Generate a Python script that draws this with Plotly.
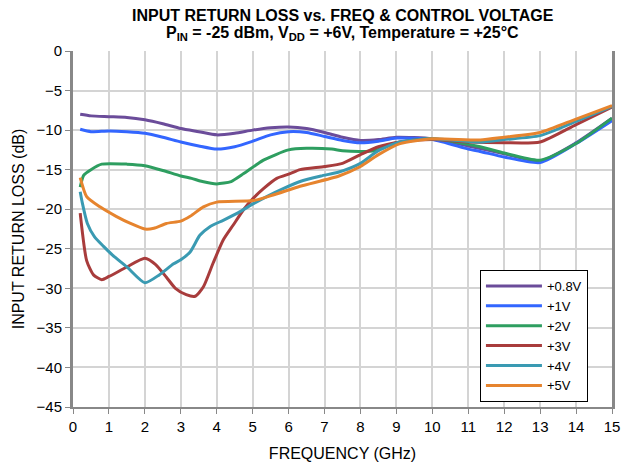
import plotly.graph_objects as go

# +0.8V
f_08 = [0.2, 0.5, 1.0, 1.5, 2.0, 2.5, 3.0, 3.5, 4.0, 4.5, 5.0, 5.5, 6.0, 6.5, 7.0, 7.5, 8.0, 8.5, 9.0, 10, 11, 12, 13, 14, 15]
rl_08 = [-8.0, -8.2, -8.3, -8.4, -8.7, -9.2, -9.8, -10.2, -10.6, -10.4, -10.0, -9.7, -9.6, -9.8, -10.3, -10.9, -11.3, -11.2, -10.9, -11.1, -12.0, -13.0, -13.9, -11.6, -8.5]

# +1V
f_1 = [0.2, 0.5, 1.0, 1.5, 2.0, 2.5, 3.0, 3.5, 4.0, 4.5, 5.0, 5.5, 6.0, 6.5, 7.0, 7.5, 8.0, 8.5, 9.0, 10, 11, 11.33, 12, 13, 14, 15]
rl_1 = [-9.9, -10.2, -10.1, -10.2, -10.4, -10.9, -11.5, -12.0, -12.4, -12.1, -11.4, -10.6, -10.2, -10.3, -10.8, -11.3, -11.6, -11.4, -11.0, -11.2, -12.4, -12.7, -13.4, -14.1, -11.7, -8.8]

# +2V
f_2 = [0.2, 0.3, 0.5, 0.8, 1.5, 2.0, 2.5, 3.0, 3.3, 3.6, 4.0, 4.4, 4.75, 5.3, 6.0, 6.5, 7.2, 7.5, 8.0, 8.4, 9.0, 10, 11.33, 12, 13, 14, 15]
rl_2 = [-17.2, -15.7, -15.0, -14.3, -14.3, -14.5, -15.1, -15.8, -16.1, -16.5, -16.8, -16.5, -15.5, -13.8, -12.5, -12.3, -12.4, -12.6, -12.7, -12.6, -11.6, -11.1, -12.1, -12.9, -13.8, -11.7, -8.5]

# +3V
f_3 = [0.2, 0.38, 0.57, 0.8, 1.0, 1.5, 2.0, 2.3, 2.6, 2.85, 3.15, 3.4, 3.63, 3.9, 4.18, 4.46, 4.74, 5.02, 5.3, 5.67, 6.04, 6.32, 7.0, 7.5, 8.0, 8.5, 9.1, 10, 11, 12, 13, 14, 15]
rl_3 = [-20.5, -26.5, -28.3, -28.9, -28.5, -27.3, -26.2, -27.0, -28.6, -30.0, -30.8, -31.0, -29.8, -26.8, -23.9, -22.0, -20.1, -18.6, -17.4, -16.1, -15.5, -15.0, -14.6, -14.2, -13.1, -12.1, -11.5, -11.2, -11.5, -11.6, -11.5, -9.3, -7.1]

# +4V
f_4 = [0.2, 0.25, 0.4, 0.6, 0.85, 1.1, 1.5, 2.0, 2.4, 2.8, 3.0, 3.26, 3.53, 3.81, 4.18, 4.65, 5.02, 5.39, 5.85, 6.32, 6.9, 7.4, 8.0, 8.5, 9.1, 10, 11.33, 12, 13, 14, 15]
rl_4 = [-17.8, -19.0, -21.8, -23.5, -24.7, -25.8, -27.3, -29.3, -28.3, -26.9, -26.4, -25.4, -23.3, -22.2, -21.4, -20.3, -19.3, -18.4, -17.4, -16.5, -15.8, -15.3, -14.2, -12.6, -11.5, -11.1, -11.5, -11.2, -10.7, -8.9, -7.0]

# +5V
f_5 = [0.2, 0.38, 0.75, 1.2, 1.6, 2.0, 2.25, 2.6, 3.0, 3.26, 3.63, 4.0, 5.02, 5.57, 6.32, 7.4, 8.0, 8.5, 9.1, 10, 11.33, 12, 13, 14, 15]
rl_5 = [-16.0, -18.4, -19.7, -20.9, -21.8, -22.5, -22.4, -21.8, -21.5, -20.9, -19.7, -19.1, -18.9, -18.2, -17.1, -15.8, -14.6, -13.1, -11.7, -11.1, -11.25, -10.9, -10.3, -8.6, -6.9]

names = ["+0.8V", "+1V", "+2V", "+3V", "+4V", "+5V"]
freqs = [f_08, f_1, f_2, f_3, f_4, f_5]
vals = [rl_08, rl_1, rl_2, rl_3, rl_4, rl_5]
colors = ["#6B4C9A", "#3366FF", "#2E9E60", "#A83C3C", "#3A9AB2", "#E6842E"]

FONT = "Liberation Sans, Arial, sans-serif"

fig = go.Figure()
for n, f, v, c in zip(names, freqs, vals, colors):
    fig.add_trace(go.Scatter(
        x=f, y=v, name=n, mode="lines",
        line=dict(color=c, width=3, shape="spline", smoothing=0.6),
    ))

# two-line bold title placed above the plot
fig.add_annotation(
    text="<b>INPUT RETURN LOSS vs. FREQ & CONTROL VOLTAGE</b>",
    xref="paper", yref="paper", x=0.5, y=1.101, xanchor="center", yanchor="middle",
    showarrow=False, font=dict(family=FONT, size=16, color="black"),
)
fig.add_annotation(
    text="<b>P<sub>IN</sub> = -25 dBm, V<sub>DD</sub> = +6V, Temperature = +25°C</b>",
    xref="paper", yref="paper", x=0.5, y=1.048, xanchor="center", yanchor="middle",
    showarrow=False, font=dict(family=FONT, size=16, color="black"),
)

fig.update_layout(
    width=621, height=466,
    margin=dict(l=73, r=9, t=51, b=59),
    paper_bgcolor="white", plot_bgcolor="white",
    font=dict(family=FONT, color="black", size=15),
    showlegend=True,
    legend=dict(
        x=0.755, y=0.385, xanchor="left", yanchor="top",
        bgcolor="white", bordercolor="black", borderwidth=1,
        font=dict(family=FONT, size=13),
        itemwidth=56, tracegroupgap=0,
    ),
)

fig.update_xaxes(
    range=[0, 15], dtick=1, tick0=0, automargin=False,
    showgrid=True, gridcolor="#D4D4D4", gridwidth=1.5,
    showline=True, linecolor="#888888", linewidth=2,
    ticks="outside", ticklen=5, tickcolor="#888888",
    ticklabeloverflow="allow",
    title=dict(text="FREQUENCY (GHz)", font=dict(size=16), standoff=14),
    zeroline=False,
)
fig.update_yaxes(
    range=[-45, 0], dtick=5, automargin=False,
    showgrid=True, gridcolor="#D4D4D4", gridwidth=1.5,
    showline=True, linecolor="#888888", linewidth=3, mirror=True,
    ticks="outside", ticklen=5, tickcolor="#888888",
    title=dict(text="INPUT RETURN LOSS (dB)", font=dict(size=16), standoff=8),
    zeroline=False,
)

# drop the default 8px body margin so the 621x466 figure fills the window
fig.write_html(
    "out.html",
    config={"displayModeBar": False},
    post_script="document.body.style.margin='0';document.body.style.overflow='hidden';",
)
